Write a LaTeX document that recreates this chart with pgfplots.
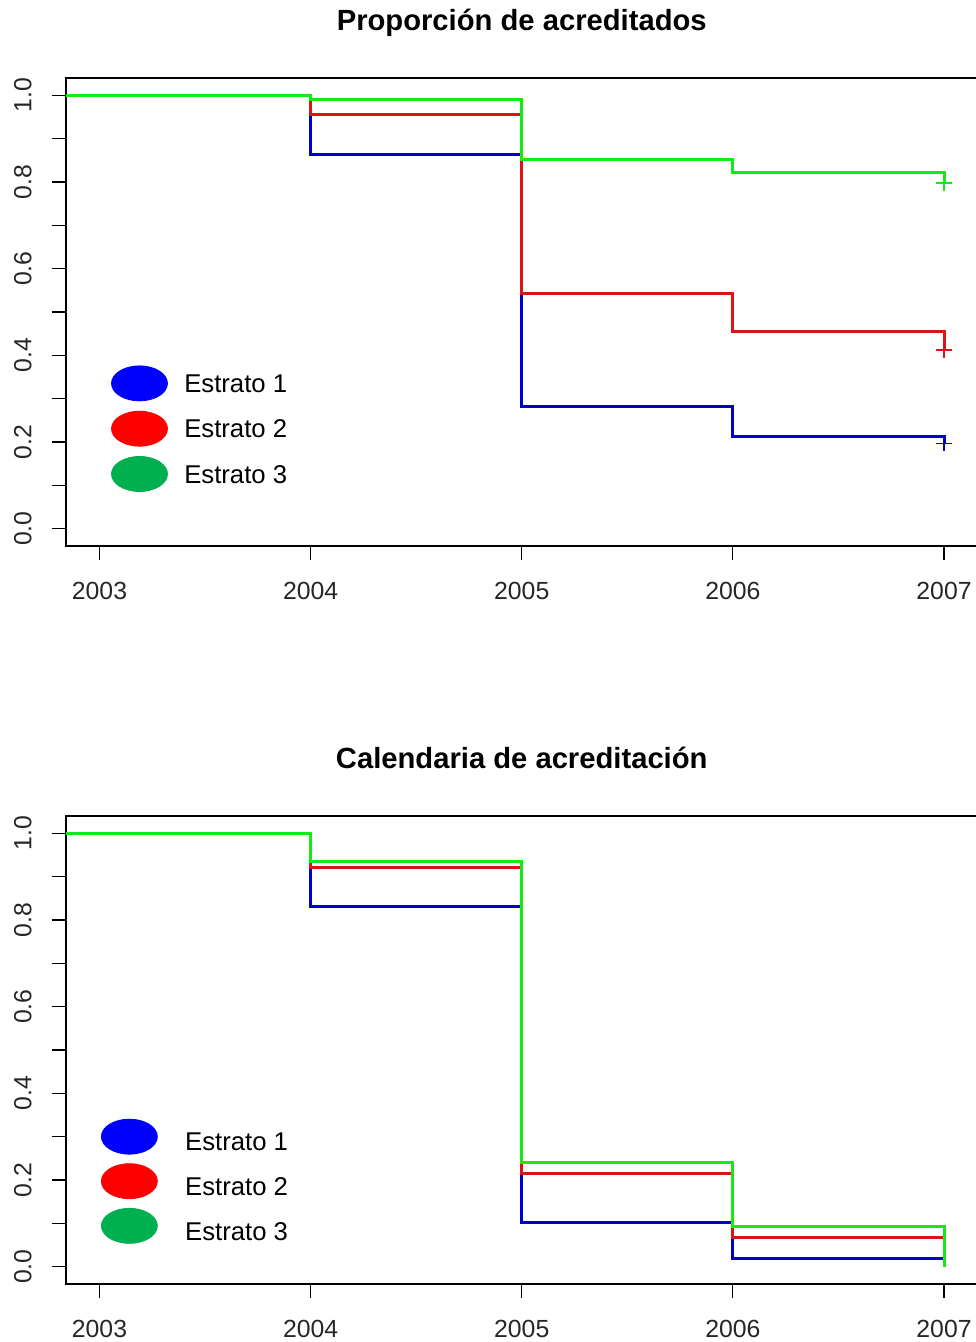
\documentclass[border=0pt]{standalone}
\usepackage{fontspec}
\setmainfont{Liberation Sans}
\usepackage{pgfplots}
\pgfplotsset{compat=1.18}

\definecolor{lblue}{RGB}{0,0,205}
\definecolor{lred}{RGB}{220,20,20}
\definecolor{lgreen}{RGB}{20,235,20}
\definecolor{kblue}{RGB}{0,0,255}
\definecolor{kred}{RGB}{255,0,0}
\definecolor{kgreen}{RGB}{0,176,80}

\pgfplotsset{
  km/.style={
    scale only axis, width=456.05pt, height=234pt,
    xmin=2002.84, xmax=2007.16, ymin=-0.04, ymax=1.04,
    xtick={2003,2004,2005,2006,2007},
    xticklabels={2003,2004,2005,2006,2007},
    ytick={0,0.2,0.4,0.6,0.8,1.0},
    yticklabels={0.0,0.2,0.4,0.6,0.8,1.0},
    minor ytick={0.1,0.3,0.5,0.7,0.9},
    tick align=outside, tick pos=left,
    major tick length=7pt, minor tick length=7pt,
    every tick/.style={black, line width=0.6pt},
    every minor tick/.style={black, line width=0.6pt},
    axis line style={black, line width=0.9pt},
    ticklabel style={font=\fontsize{12.4}{14}\selectfont, text=black!85},
    yticklabel style={rotate=90, anchor=south},
    xticklabel style={anchor=north},
    xticklabel shift=7.5pt,
    yticklabel shift=6.5pt,
    title style={font=\fontsize{14.6}{17}\selectfont\bfseries, at={(0.5,1)}, anchor=base, yshift=17.8pt},
    legend style={draw=none, fill=none, font=\fontsize{12.85}{15}\selectfont, anchor=north west, inner sep=0pt, outer sep=0pt},
    legend cell align=left,
  },
  kmline/.style={const plot, line width=1.5pt, mark=none},
}

\begin{document}
\begin{tikzpicture}
% ---------------- top panel ----------------
\begin{axis}[km, at={(32.85pt,-273pt)}, anchor=south west,
  title={Proporción de acreditados},
  legend style={at={(axis cs:2003.055,0.3766)}, column sep=6.2pt, row sep=4.75pt}]
\addplot[kmline, lblue, forget plot] coordinates {(2002.84,1) (2004,0.864) (2005,0.283) (2006,0.212) (2007,0.197)};
\addplot[kmline, lred, forget plot] coordinates {(2002.84,1) (2004,0.956) (2005,0.542) (2006,0.455) (2007,0.412)};
\addplot[kmline, lgreen, forget plot] coordinates {(2002.84,1) (2004,0.990) (2005,0.851) (2006,0.822) (2007,0.797)};
\addplot[only marks, mark=+, mark size=4pt, lblue, line width=0.8pt, forget plot] coordinates {(2007,0.197)};
\addplot[only marks, mark=+, mark size=4pt, lred, line width=0.8pt, forget plot] coordinates {(2007,0.412)};
\addplot[only marks, mark=+, mark size=4pt, lgreen, line width=0.8pt, forget plot] coordinates {(2007,0.797)};
\addlegendimage{legend image code/.code={\fill[kblue] (14pt,0.9pt) ellipse [x radius=14pt, y radius=8.75pt];}}
\addlegendentry{Estrato 1}
\addlegendimage{legend image code/.code={\fill[kred] (14pt,0.9pt) ellipse [x radius=14pt, y radius=8.75pt];}}
\addlegendentry{Estrato 2}
\addlegendimage{legend image code/.code={\fill[kgreen] (14pt,0.9pt) ellipse [x radius=14pt, y radius=8.75pt];}}
\addlegendentry{Estrato 3}
\end{axis}
% ---------------- bottom panel ----------------
\begin{axis}[km, at={(32.85pt,-642pt)}, anchor=south west,
  title={Calendaria de acreditación},
  legend style={at={(axis cs:2003.007,0.3414)}, column sep=11.7pt, row sep=2.75pt}]
\addplot[kmline, lblue, forget plot] coordinates {(2002.84,1) (2004,0.832) (2005,0.101) (2006,0.018) (2007,0.018)};
\addplot[kmline, lred, forget plot] coordinates {(2002.84,1) (2004,0.922) (2005,0.215) (2006,0.068) (2007,0.068)};
\addplot[kmline, lgreen, forget plot] coordinates {(2002.84,1) (2004,0.936) (2005,0.241) (2006,0.093) (2007,0.0)};
\addlegendimage{legend image code/.code={\fill[kblue] (14pt,3.4pt) ellipse [x radius=14pt, y radius=8.75pt];}}
\addlegendentry{Estrato 1}
\addlegendimage{legend image code/.code={\fill[kred] (14pt,3.4pt) ellipse [x radius=14pt, y radius=8.75pt];}}
\addlegendentry{Estrato 2}
\addlegendimage{legend image code/.code={\fill[kgreen] (14pt,3.4pt) ellipse [x radius=14pt, y radius=8.75pt];}}
\addlegendentry{Estrato 3}
\end{axis}
\pgfresetboundingbox
\path[use as bounding box] (0,0) rectangle (487.5pt,-671pt);
\end{tikzpicture}
\end{document}
